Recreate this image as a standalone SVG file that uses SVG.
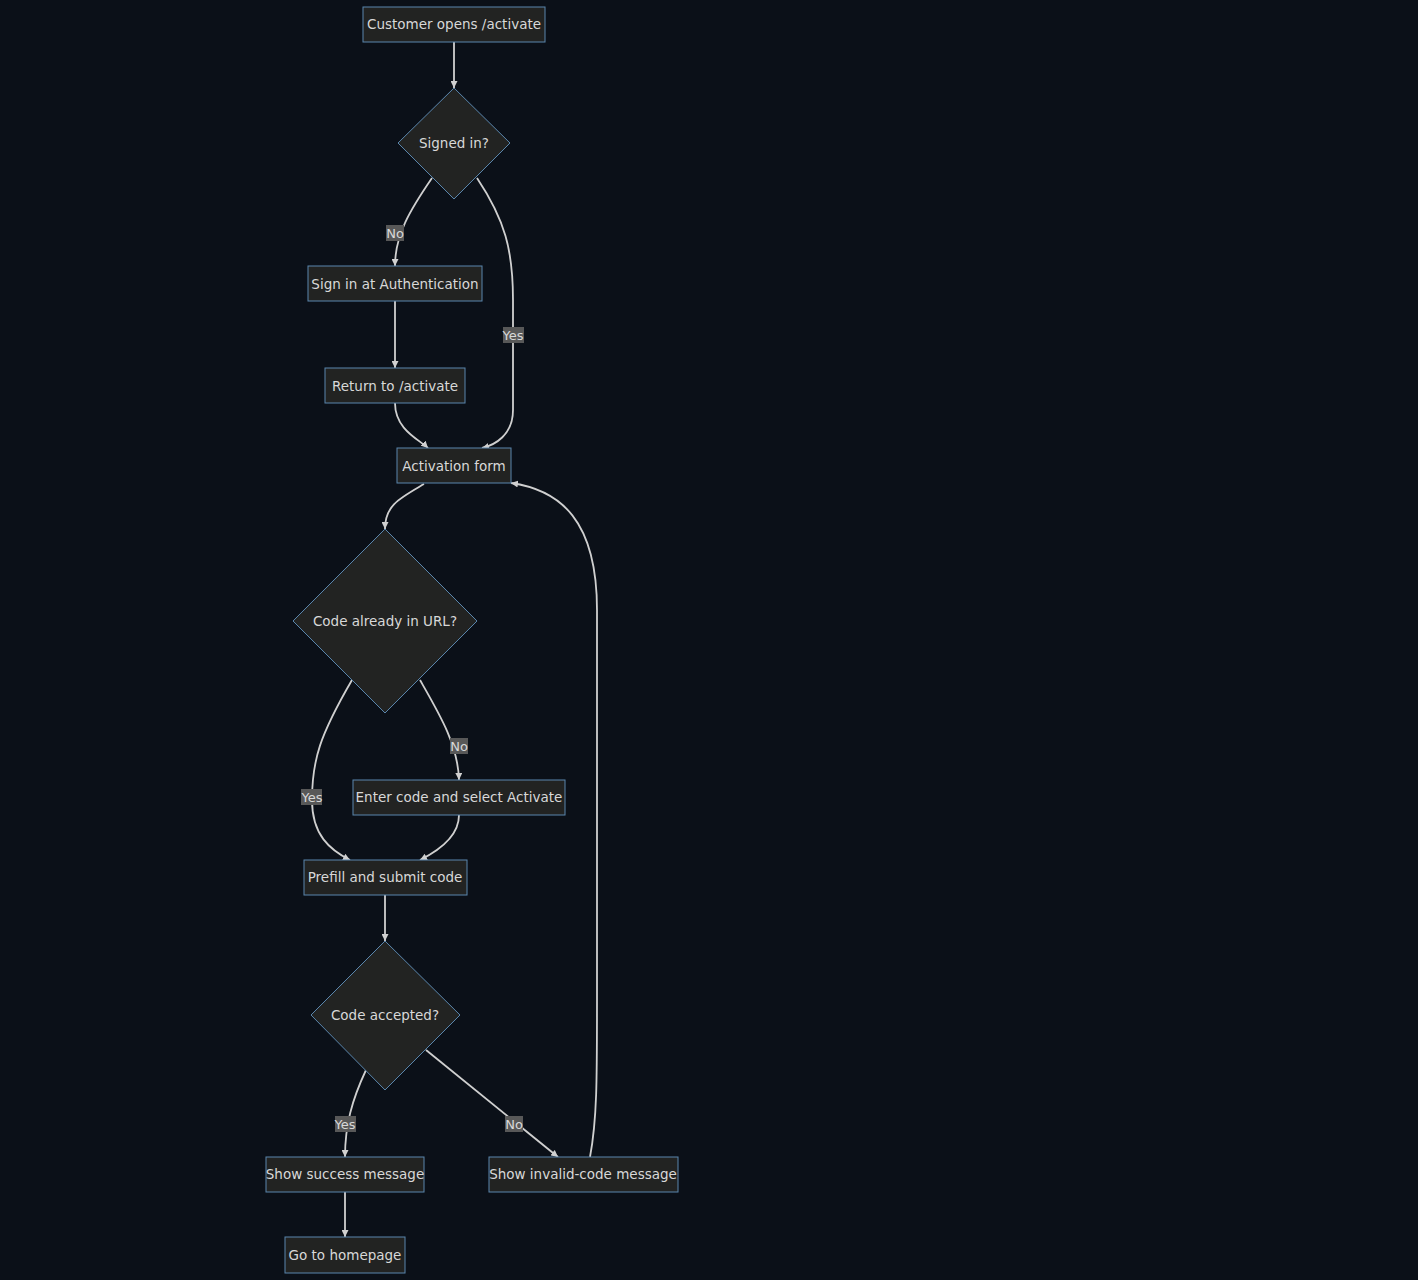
<svg xmlns="http://www.w3.org/2000/svg" width="1418" height="1280" viewBox="0 0 1418 1280">
<style>
.n{fill:#222322;stroke:#5a86ad;stroke-width:1}
.t{font-family:"DejaVu Sans",sans-serif;font-size:13.5px;fill:#d8d8d8;text-anchor:middle;dominant-baseline:central}
.e{fill:none;stroke:#d0d0d0;stroke-width:1.8;marker-end:url(#a)}
.lb{fill:#585858}
.lt{font-family:"DejaVu Sans",sans-serif;font-size:13px;fill:#d8d8d8;text-anchor:middle;dominant-baseline:central}
</style>
<defs><marker id="a" viewBox="0 0 10 10" refX="10" refY="5" markerWidth="7" markerHeight="7" orient="auto" markerUnits="userSpaceOnUse"><path d="M0,0L10,5L0,10z" fill="#d0d0d0"/></marker></defs>
<rect width="1418" height="1280" fill="#0b1018"/>
<g id="edges">
<path class="e" d="M454,42 L454,88"/>
<path class="e" d="M432,178 C410,210 395,235 395,266"/>
<path class="e" d="M477,178 C505,220 513,250 513,300 L513,410 C513,435 495,445 482,448"/>
<path class="e" d="M395,301 L395,368"/>
<path class="e" d="M395,403 C395,430 420,440 428,448"/>
<path class="e" d="M424,484 C400,498 385,505 385,529"/>
<path class="e" d="M352,680 C320,735 312,760 312,800 C312,835 330,850 350,860"/>
<path class="e" d="M420,680 C440,715 458,745 459,780"/>
<path class="e" d="M459,815 C459,835 440,850 420,860"/>
<path class="e" d="M385,895 L385,941"/>
<path class="e" d="M366,1070 C352,1100 345,1125 345,1157"/>
<path class="e" d="M426,1050 L558,1157"/>
<path class="e" d="M590,1157 C597,1120 597,1080 597,1000 L597,610 C597,520 560,490 511,483"/>
<path class="e" d="M345,1192 L345,1237"/>
<rect class="lb" x="386" y="225" width="18" height="16"/><text class="lt" x="395" y="233">No</text>
<rect class="lb" x="503" y="327" width="21" height="16"/><text class="lt" x="513" y="335">Yes</text>
<rect class="lb" x="301" y="789" width="21" height="16"/><text class="lt" x="312" y="797">Yes</text>
<rect class="lb" x="450" y="738" width="18" height="16"/><text class="lt" x="459" y="746">No</text>
<rect class="lb" x="335" y="1116" width="21" height="16"/><text class="lt" x="345" y="1124">Yes</text>
<rect class="lb" x="505" y="1116" width="18" height="16"/><text class="lt" x="514" y="1124">No</text>
</g>
<g id="A"><rect class="n" x="363" y="7" width="182" height="35"/><text class="t" x="454" y="24">Customer opens /activate</text></g>
<g id="B"><polygon class="n" points="454,88 510,143 454,199 398,143"/><text class="t" x="454" y="143">Signed in?</text></g>
<g id="C"><rect class="n" x="308" y="266" width="174" height="35"/><text class="t" x="395" y="284">Sign in at Authentication</text></g>
<g id="D"><rect class="n" x="325" y="368" width="140" height="35"/><text class="t" x="395" y="386">Return to /activate</text></g>
<g id="E"><rect class="n" x="397" y="448" width="114" height="35"/><text class="t" x="454" y="466">Activation form</text></g>
<g id="F"><polygon class="n" points="385,529 477,621 385,713 293,621"/><text class="t" x="385" y="621">Code already in URL?</text></g>
<g id="G"><rect class="n" x="353" y="780" width="212" height="35"/><text class="t" x="459" y="797">Enter code and select Activate</text></g>
<g id="H"><rect class="n" x="304" y="860" width="163" height="35"/><text class="t" x="385" y="877">Prefill and submit code</text></g>
<g id="I"><polygon class="n" points="385,941 460,1015 385,1090 311,1015"/><text class="t" x="385" y="1015">Code accepted?</text></g>
<g id="J"><rect class="n" x="266" y="1157" width="158" height="35"/><text class="t" x="345" y="1174">Show success message</text></g>
<g id="K"><rect class="n" x="489" y="1157" width="189" height="35"/><text class="t" x="583" y="1174">Show invalid-code message</text></g>
<g id="L"><rect class="n" x="285" y="1237" width="120" height="36"/><text class="t" x="345" y="1255">Go to homepage</text></g>
</svg>
